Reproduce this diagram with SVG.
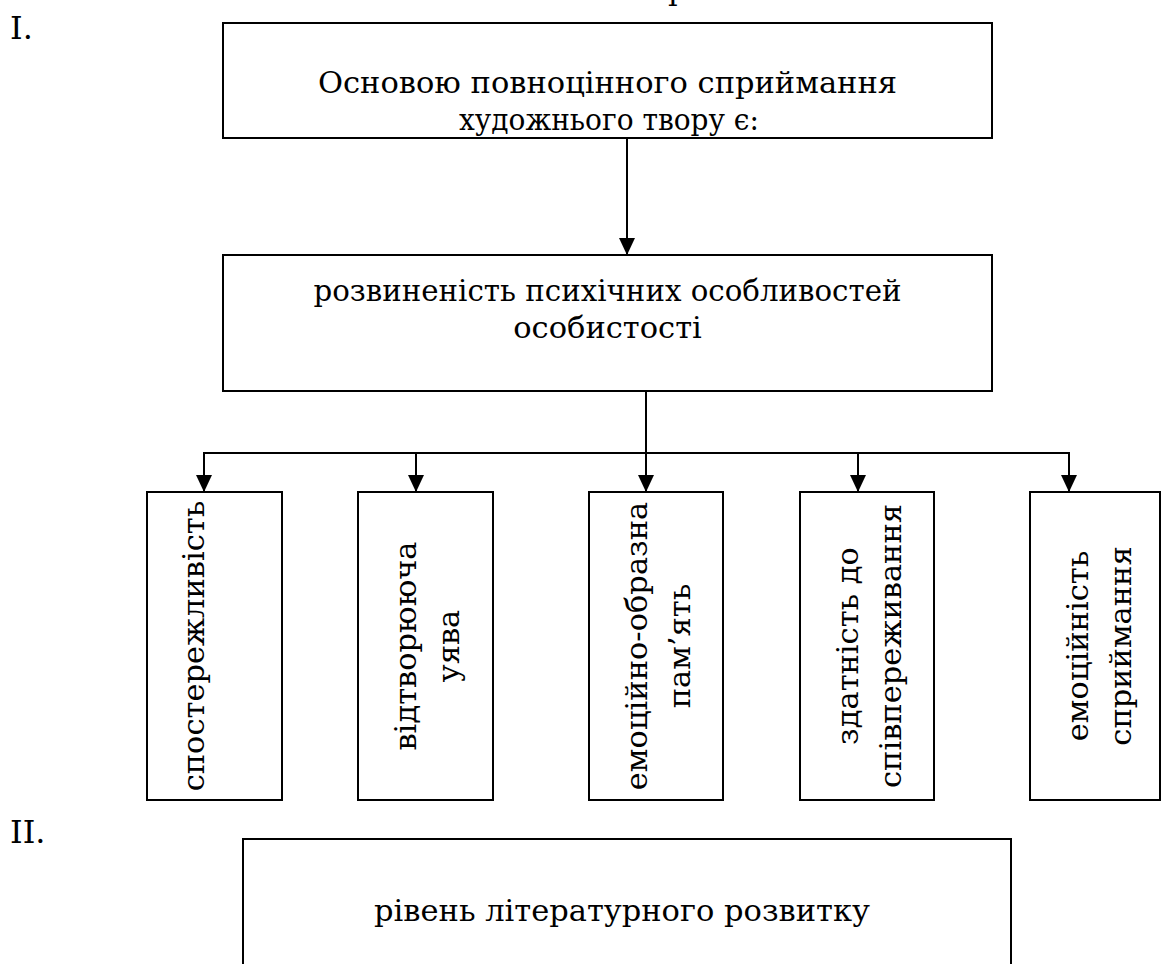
<svg xmlns="http://www.w3.org/2000/svg" width="1162" height="964" viewBox="0 0 1162 964">
<style>
.box{fill:#fff;stroke:#000;stroke-width:2}
.t{font-family:'DejaVu Serif','Liberation Serif',serif;font-size:30.5px;fill:#000}
.num{font-family:'DejaVu Serif',serif;font-size:32px;fill:#000}
.ln{stroke:#000;stroke-width:2;fill:none}
</style>
<defs>
<marker id="ah" viewBox="0 0 17 16" refX="17" refY="8" markerWidth="17" markerHeight="16" markerUnits="userSpaceOnUse" orient="auto">
<path d="M0,0 L17,8 L0,16 z" fill="#000"/>
</marker>
</defs>
<rect width="1162" height="964" fill="#fff"/>
<text class="t" x="668" y="0">р</text>
<text class="num" x="10" y="39">I.</text>
<text class="num" x="10" y="843">II.</text>
<g id="connectors">
<line class="ln" x1="627" y1="138" x2="627" y2="255" marker-end="url(#ah)"/>
<line class="ln" x1="646" y1="391" x2="646" y2="492" marker-end="url(#ah)"/>
<line class="ln" x1="204" y1="453" x2="1069" y2="453"/>
<line class="ln" x1="204" y1="452" x2="204" y2="492" marker-end="url(#ah)"/>
<line class="ln" x1="416" y1="452" x2="416" y2="492" marker-end="url(#ah)"/>
<line class="ln" x1="858" y1="452" x2="858" y2="492" marker-end="url(#ah)"/>
<line class="ln" x1="1069" y1="452" x2="1069" y2="492" marker-end="url(#ah)"/>
</g>
<g id="n-top">
<rect class="box" x="223" y="23" width="769" height="115"/>
<text class="t" x="607.5" y="93" text-anchor="middle">Основою повноцінного сприймання</text>
<text class="t" x="609" y="130" text-anchor="middle" textLength="300" lengthAdjust="spacingAndGlyphs">художнього твору є:</text>
</g>
<g id="n-dev">
<rect class="box" x="223" y="255" width="769" height="136"/>
<text class="t" x="607.5" y="301" text-anchor="middle" textLength="588" lengthAdjust="spacingAndGlyphs">розвиненість психічних особливостей</text>
<text class="t" x="607.5" y="338" text-anchor="middle">особистості</text>
</g>
<g id="n1">
<rect class="box" x="147" y="492" width="135" height="308"/>
<text class="t" transform="translate(204,646) rotate(-90)" text-anchor="middle">спостережливість</text>
</g>
<g id="n2">
<rect class="box" x="358" y="492" width="135" height="308"/>
<text class="t" transform="translate(416,646) rotate(-90)" text-anchor="middle">відтворююча</text>
<text class="t" transform="translate(459,646) rotate(-90)" text-anchor="middle">уява</text>
</g>
<g id="n3">
<rect class="box" x="589" y="492" width="134" height="308"/>
<text class="t" transform="translate(647,646) rotate(-90)" text-anchor="middle">емоційно-образна</text>
<text class="t" transform="translate(690,646) rotate(-90)" text-anchor="middle">пам’ять</text>
</g>
<g id="n4">
<rect class="box" x="800" y="492" width="134" height="308"/>
<text class="t" transform="translate(858,646) rotate(-90)" text-anchor="middle">здатність до</text>
<text class="t" transform="translate(901,646) rotate(-90)" text-anchor="middle">співпереживання</text>
</g>
<g id="n5">
<rect class="box" x="1030" y="492" width="130" height="308"/>
<text class="t" transform="translate(1088,646) rotate(-90)" text-anchor="middle">емоційність</text>
<text class="t" transform="translate(1131,646) rotate(-90)" text-anchor="middle">сприймання</text>
</g>
<g id="n-level">
<rect class="box" x="243" y="839" width="768" height="140"/>
<text class="t" x="622" y="921" text-anchor="middle">рівень літературного розвитку</text>
</g>
</svg>
